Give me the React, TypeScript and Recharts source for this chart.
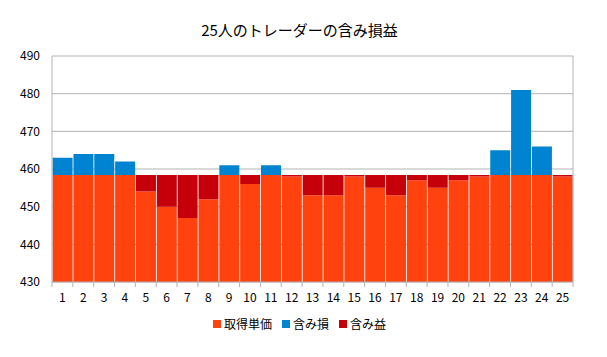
import { BarChart, Bar, XAxis, YAxis, CartesianGrid } from 'recharts'

// 各トレーダーの取得単価と現在値
const traders = ['1','2','3','4','5','6','7','8','9','10','11','12','13','14','15','16','17','18','19','20','21','22','23','24','25']
const prices = [463, 464, 464, 462, 454, 450, 447, 452, 461, 456, 461, 458, 453, 453, 458, 455, 453, 457, 455, 457, 458, 465, 481, 466, 458]
const currentPrice = 458.4
const yTicks = [430, 440, 450, 460, 470, 480, 490]

const COLORS = { base: '#ff420e', loss: '#0084d1', gain: '#c5000b' }
const FONT = '"Noto Sans CJK JP", "DejaVu Sans", sans-serif'

const W = 607
const H = 357
const PLOT_LEFT = 52
const PLOT_RIGHT = 573
const BAND = (PLOT_RIGHT - PLOT_LEFT) / traders.length

const data = traders.map((name, i) => ({
  name,
  base: Math.min(prices[i], currentPrice),
  loss: Math.max(prices[i] - currentPrice, 0),
  gain: Math.max(currentPrice - prices[i], 0),
}))

const XTick = ({ x, y, payload, index }: any) => (
  <g>
    <line x1={x - BAND / 2} x2={x - BAND / 2} y1={y} y2={y + 5} stroke="#b3b3b3" />
    {index === traders.length - 1 && (
      <line x1={x + BAND / 2} x2={x + BAND / 2} y1={y} y2={y + 5} stroke="#b3b3b3" />
    )}
    <text x={x} y={y + 20} textAnchor="middle" fill="#000" fontSize={12} fontFamily={FONT}>
      {payload.value}
    </text>
  </g>
)

const legend = [
  { label: '取得単価', color: COLORS.base },
  { label: '含み損', color: COLORS.loss },
  { label: '含み益', color: COLORS.gain },
]

export default function App() {
  return (
    <div style={{ position: 'fixed', top: 0, left: 0, width: W, height: H, background: '#fff', fontFamily: FONT }}>
      <div style={{ position: 'absolute', top: 19, left: 0, width: W - 8, textAlign: 'center', fontSize: 15, color: '#000' }}>
        25人のトレーダーの含み損益
      </div>
      <BarChart
        width={W}
        height={H}
        data={data}
        margin={{ top: 56, right: W - PLOT_RIGHT, bottom: 45, left: 12 }}
        barCategoryGap={0.6}
      >
        <CartesianGrid vertical={false} stroke="#b3b3b3" />
        <XAxis
          dataKey="name"
          height={30}
          tick={<XTick />}
          tickLine={false}
          tickSize={0}
          tickMargin={0}
          axisLine={{ stroke: '#b3b3b3' }}
          interval={0}
        />
        <YAxis
          width={40}
          domain={[430, 490]}
          ticks={yTicks}
          allowDataOverflow
          tick={{ fill: '#000', fontSize: 12, fontFamily: FONT }}
          tickLine={false}
          tickSize={0}
          tickMargin={12}
          axisLine={{ stroke: '#b3b3b3' }}
        />
        <YAxis yAxisId="r" orientation="right" width={0} hide />
        <Bar dataKey="base" name="取得単価" stackId="a" fill={COLORS.base} isAnimationActive={false} />
        <Bar dataKey="loss" name="含み損" stackId="a" fill={COLORS.loss} isAnimationActive={false} />
        <Bar dataKey="gain" name="含み益" stackId="a" fill={COLORS.gain} isAnimationActive={false} />
      </BarChart>
      <div style={{ position: 'absolute', top: 315, left: 0, width: W - 8, display: 'flex', justifyContent: 'center', gap: 10, fontSize: 12, color: '#000' }}>
        {legend.map(l => (
          <div key={l.label} style={{ display: 'flex', alignItems: 'center', gap: 3 }}>
            <span style={{ display: 'inline-block', width: 8, height: 8, background: l.color }} />
            <span>{l.label}</span>
          </div>
        ))}
      </div>
      <svg style={{ position: 'absolute', top: 0, left: 0, pointerEvents: 'none' }} width={W} height={H}>
        <line x1={PLOT_RIGHT} x2={PLOT_RIGHT} y1={56} y2={282} stroke="#b3b3b3" />
      </svg>
    </div>
  )
}
